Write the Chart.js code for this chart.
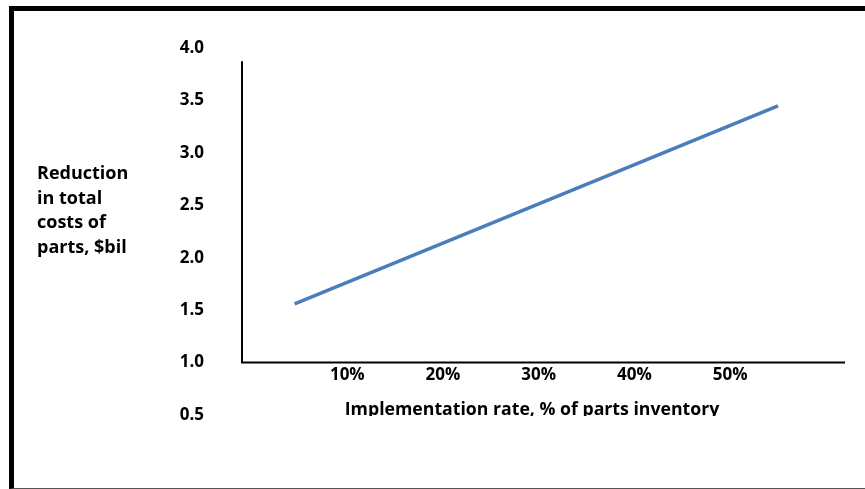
<!DOCTYPE html>
<html>
<head>
<meta charset="utf-8">
<script src="https://cdn.jsdelivr.net/npm/chart.js@4.4.1/dist/chart.umd.min.js"></script>
<style>
  html, body { margin: 0; padding: 0; background: #fff; }
  #wrap { position: relative; width: 865px; height: 489px; overflow: hidden; }
  #frame {
    position: absolute; left: 9px; top: 6px; width: 900px; height: 477px;
    border-left: 5px solid #000; border-top: 5px solid #000;
    border-bottom: 1px solid #555; box-sizing: content-box;
  }
  canvas { position: absolute; left: 0; top: 0; }
</style>
</head>
<body>
<div id="wrap">
  <div id="frame"></div>
  <canvas id="c" width="865" height="489"></canvas>
</div>
<script>
// Implementation rate (% of parts inventory) and the matching cost reduction ($ billion)
const implementationRate = [4.5, 55];
const costReduction = [1.56, 3.45];
const xTickValues = [10, 20, 30, 40, 50];
const yTitleLines = ['Reduction', 'in total', 'costs of', 'parts, $bil'];
const xTitleText = 'Implementation rate, % of parts inventory';

const FONT = '"Open Sans", sans-serif';

// Axis lines, the stacked y title and the x title (cut off at the bottom like the printed figure)
const decorations = {
  id: 'decorations',
  afterDraw(chart) {
    const { ctx, scales: { x, y } } = chart;
    const yBase = y.getPixelForValue(1.0);
    ctx.save();
    ctx.strokeStyle = '#000';
    ctx.lineWidth = 2;
    ctx.beginPath();
    ctx.moveTo(x.left, y.getPixelForValue(3.875));
    ctx.lineTo(x.left, yBase);
    ctx.lineTo(x.right, yBase);
    ctx.stroke();

    ctx.fillStyle = '#000';
    ctx.font = 'bold 18px ' + FONT;
    ctx.textAlign = 'left';
    ctx.textBaseline = 'middle';
    yTitleLines.forEach((t, i) => ctx.fillText(t, 37, 174 + i * 24.5));

    ctx.beginPath();
    ctx.rect(0, 0, chart.width, 416);
    ctx.clip();
    ctx.font = 'bold 17.7px ' + FONT;
    ctx.textAlign = 'center';
    ctx.textBaseline = 'alphabetic';
    ctx.fillText(xTitleText, 532, 415);
    ctx.restore();
  }
};

new Chart(document.getElementById('c'), {
  type: 'line',
  data: {
    datasets: [{
      data: implementationRate.map((v, i) => ({ x: v, y: costReduction[i] })),
      borderColor: '#4a7ebb',
      borderWidth: 3.5,
      pointRadius: 0,
      fill: false,
      tension: 0
    }]
  },
  options: {
    responsive: false,
    animation: false,
    layout: { padding: { top: 42, right: 20, bottom: 74, left: 0 } },
    plugins: { legend: { display: false }, tooltip: { enabled: false } },
    scales: {
      x: {
        type: 'linear',
        position: { y: 1.0 },
        min: -1,
        max: 62,
        afterBuildTicks(s) { s.ticks = xTickValues.map(v => ({ value: v })); },
        grid: { display: false, drawTicks: false },
        border: { display: false },
        ticks: {
          padding: 2,
          color: '#000',
          font: { family: FONT, size: 17, weight: 'bold' },
          callback: v => v + '%'
        }
      },
      y: {
        min: 0.5,
        max: 4.0,
        afterFit(s) { s.width = 242; },
        grid: { display: false, drawTicks: false },
        border: { display: false },
        ticks: {
          stepSize: 0.5,
          padding: 38,
          color: '#000',
          font: { family: FONT, size: 17, weight: 'bold' },
          callback: v => v.toFixed(1)
        }
      }
    }
  },
  plugins: [decorations]
});
</script>
</body>
</html>
